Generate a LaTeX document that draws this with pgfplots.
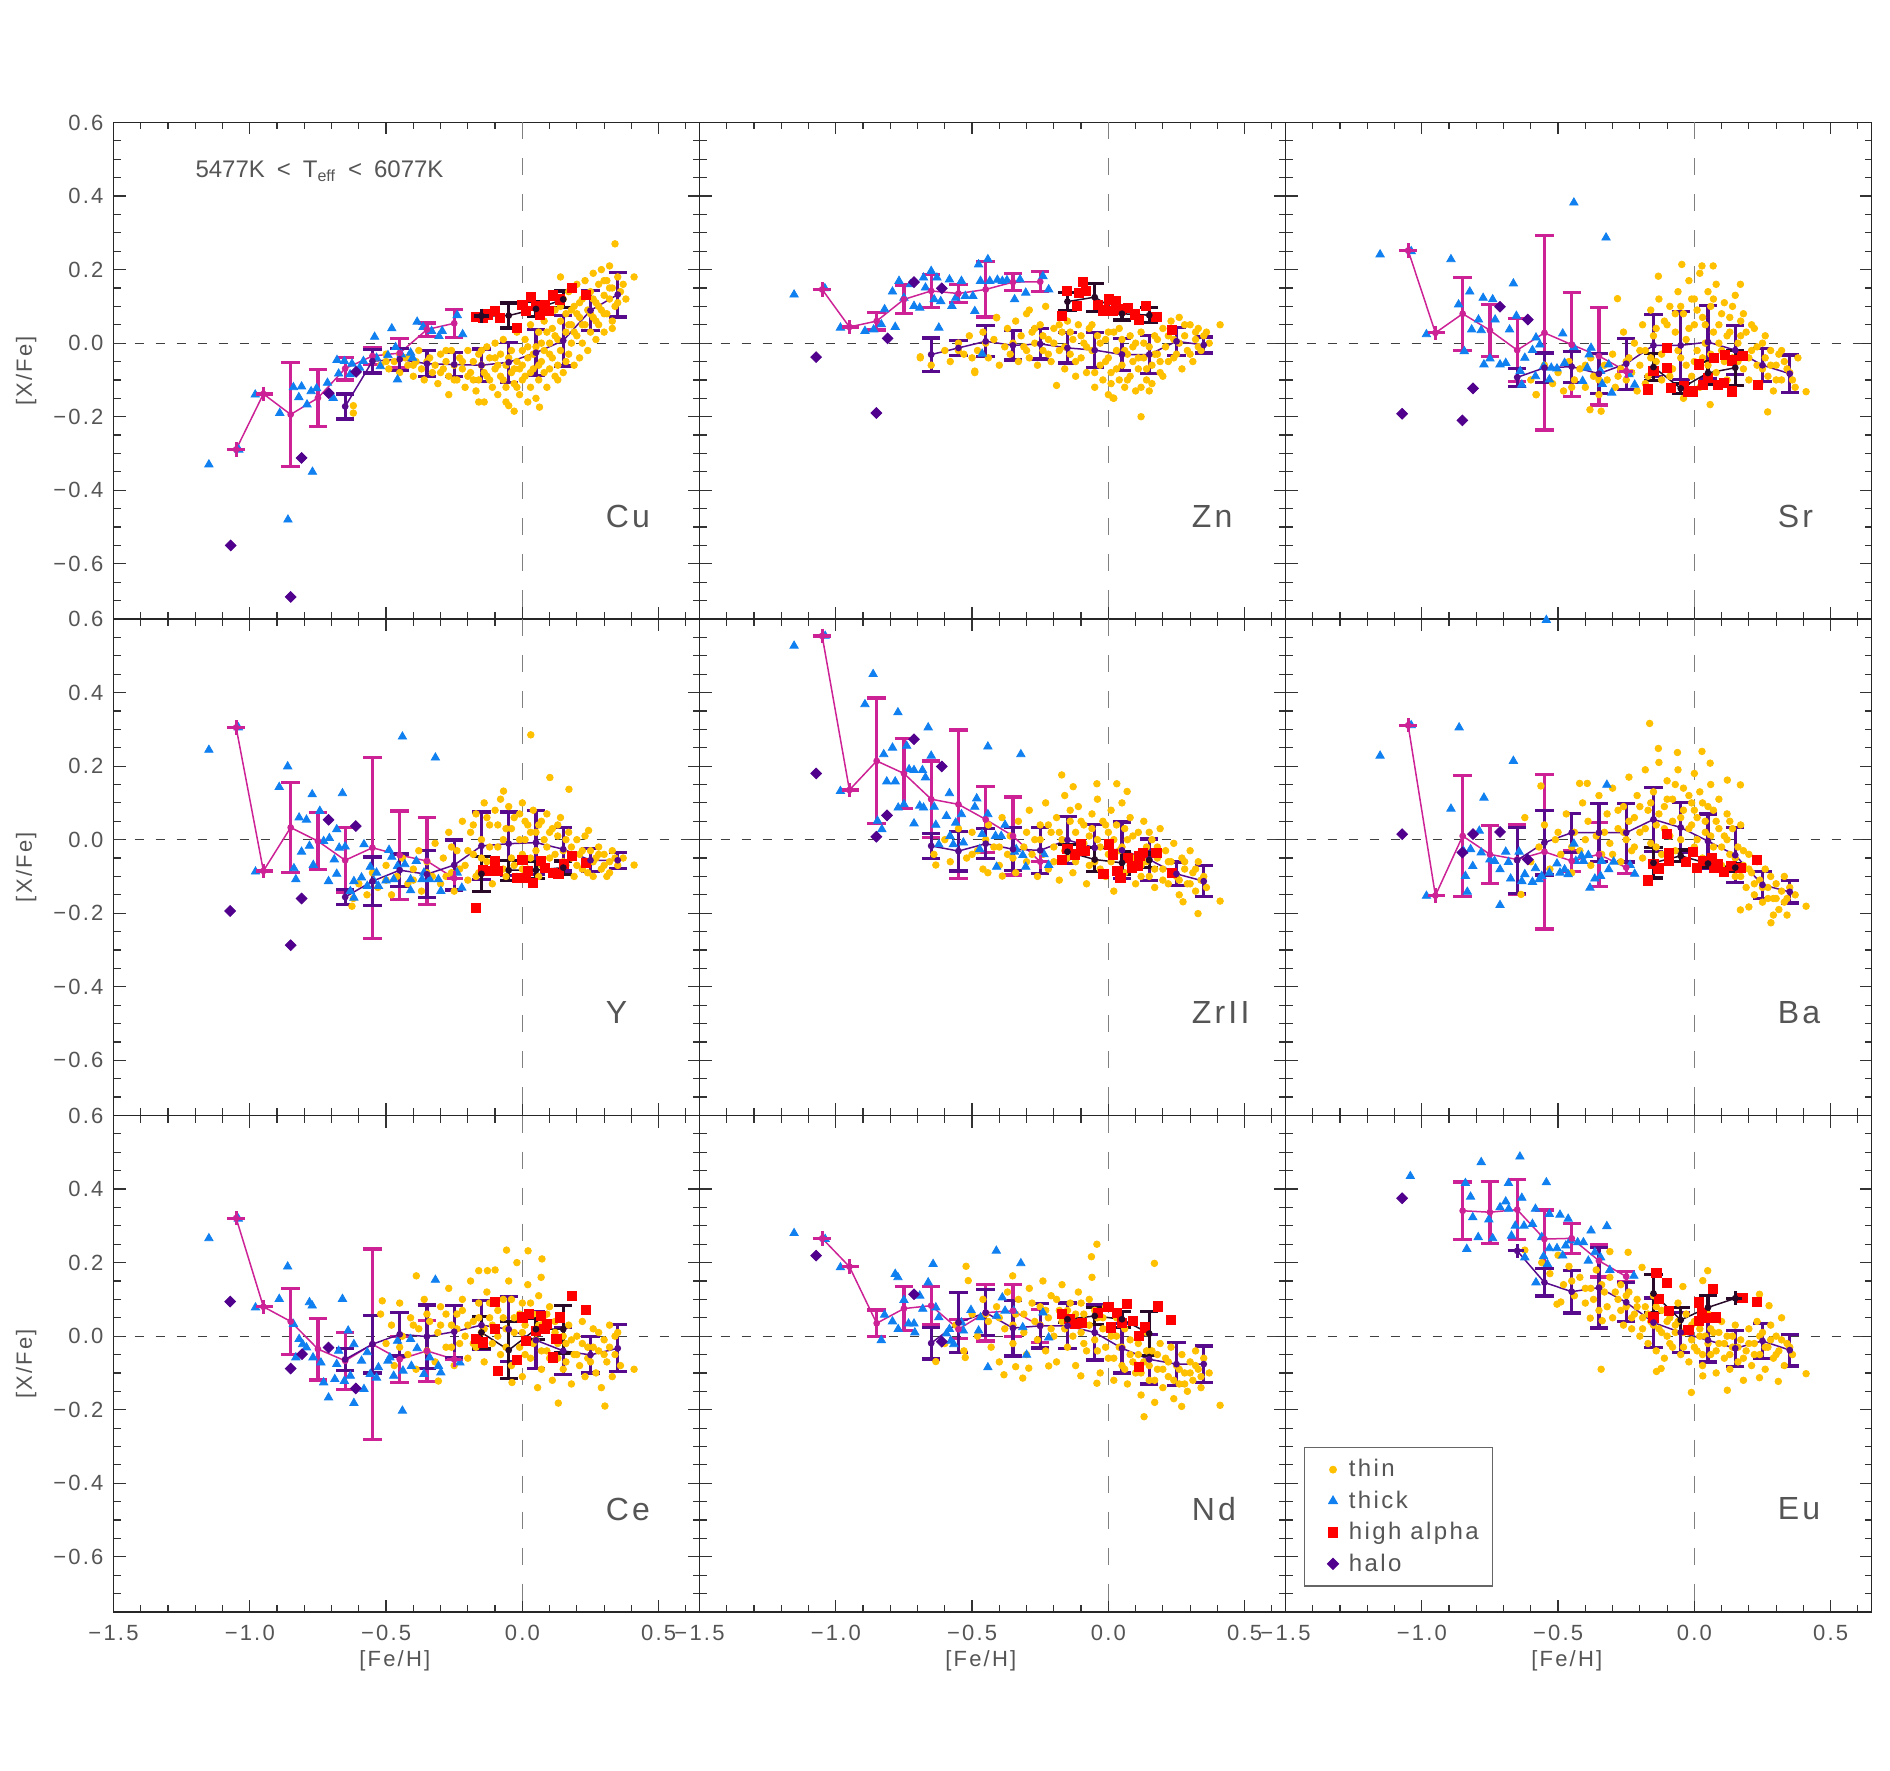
\documentclass[border=0pt]{standalone}
\usepackage{fontspec}
\setmainfont{Liberation Sans}
\newfontfamily\spaced{Liberation Sans}[LetterSpace=10]
\usepackage{pgfplots}
\pgfplotsset{compat=1.18}

\definecolor{thinc}{RGB}{255,192,0}
\definecolor{thickc}{RGB}{16,128,240}
\definecolor{alphac}{RGB}{255,0,0}
\definecolor{haloc}{RGB}{80,0,140}
\definecolor{magc}{RGB}{204,34,150}
\definecolor{purc}{RGB}{88,10,140}
\definecolor{blkc}{RGB}{40,10,40}
\definecolor{txtc}{RGB}{85,85,85}

\newcommand\tickfont{\spaced\fontsize{11}{12}\selectfont}
\newcommand\elemfont{\spaced\fontsize{16}{18}\selectfont}
\newcommand\legfont{\spaced\fontsize{12}{14}\selectfont}

\pgfplotsset{
  panel/.style={
    scale only axis, width=293pt, height=248.25pt,
    anchor=south west,
    xmin=-1.5, xmax=0.65, ymin=-0.75, ymax=0.6,
    xtick={-1.5,-1,-0.5,0,0.5},
    ytick={-0.6,-0.4,-0.2,0,0.2,0.4,0.6},
    minor xtick={-1.4,-1.3,-1.2,-1.1,-0.9,-0.8,-0.7,-0.6,-0.4,-0.3,-0.2,-0.1,0.1,0.2,0.3,0.4,0.6},
    minor ytick={-0.7,-0.65,-0.55,-0.5,-0.45,-0.35,-0.3,-0.25,-0.15,-0.1,-0.05,0.05,0.1,0.15,0.25,0.3,0.35,0.45,0.5,0.55},
    xtick pos=both, ytick pos=both, xticklabel pos=lower, yticklabel pos=left,
    tick align=inside, major tick length=6pt, minor tick length=3.5pt,
    every tick/.style={black!80, line width=0.6pt},
    axis line style={black!85, line width=0.8pt},
    tick label style={font=\tickfont, text=txtc},
    xticklabel style={yshift=-3pt},
    yticklabel style={xshift=-1.5pt},
    label style={font=\tickfont, text=txtc},
    xlabel style={at={(axis description cs:0.48,-0.099)}, anchor=center},
    ylabel style={at={(axis description cs:-0.149,0.5)}, anchor=center},
  },
  xlab/.style={xticklabels={−1.5,−1.0,−0.5,0.0,0.5}, xlabel={[Fe/H]}},
  nox/.style={xticklabels={}},
  ylab/.style={yticklabels={−0.6,−0.4,−0.2,0.0,0.2,0.4,0.6}, ylabel={[X/Fe]}},
  noy/.style={yticklabels={}},
  ythin/.style={only marks, mark=*, mark size=1.65pt, color=thinc},
  bthick/.style={only marks, mark=triangle*, mark size=2.4pt, color=thickc},
  ralpha/.style={only marks, mark=square*, mark size=2.3pt, color=alphac},
  phalo/.style={only marks, mark=square*, mark size=1.9pt, mark options={rotate=45}, color=haloc},
  legimg/.style={legend image code/.code={\path (0pt,0pt) (14.5pt,0pt);\draw[mark repeat=2,mark phase=2,##1] plot coordinates {(0pt,0pt)(8.9pt,0pt)(17.8pt,0pt)};}},
  xcross/.style={only marks, mark=+, mark size=3.6pt, line width=1.6pt, color=#1},
  bins/.style={color=#1, line width=0.75pt, mark=*, mark size=1.3pt,
    error bars/.cd, y dir=both, y explicit,
    error bar style={line width=1.6pt, color=#1},
    error mark options={rotate=90, mark size=4.6pt, line width=1.6pt, color=#1}},
}

% dashed solar reference lines
\newcommand\zerolines{%
  \draw[black!75, line width=0.6pt, dash pattern=on 4.5pt off 6pt] (axis cs:-1.5,0) -- (axis cs:0.65,0);
  \draw[black!50, line width=0.6pt, dash pattern=on 8.5pt off 9.5pt] (axis cs:0,0.6) -- (axis cs:0,-0.75);}
\newcommand\elem[1]{\node[anchor=west, inner sep=0pt, font=\elemfont, text=txtc] at (axis cs:0.305,-0.47) {#1};}

\begin{document}
\begin{tikzpicture}
\path[use as bounding box] (0,0) rectangle (945pt,885.5pt);

% ---------------- Cu ----------------
\begin{axis}[panel, at={(56.75pt,576pt)}, nox, ylab]
\zerolines
\addplot[ythin] coordinates {(-0.54,-0.04)(-0.52,-0.06)(-0.5,-0.03)(-0.49,-0.07)(-0.47,-0.05)(-0.45,-0.08)(-0.43,-0.04)(-0.42,-0.06)(-0.4,-0.09)(-0.41,-0.03)(-0.62,-0.19)(-0.62,-0.17)
(-0.39,-0.05)(-0.38,-0.02)(-0.37,-0.07)(-0.36,-0.1)(-0.34,-0.04)(-0.33,-0.08)(-0.32,-0.06)(-0.31,-0.11)(-0.3,-0.03)(-0.29,-0.07)(-0.28,-0.05)(-0.27,-0.09)(-0.26,-0.02)(-0.25,-0.06)(-0.27,-0.14)
(-0.24,-0.1)(-0.23,-0.04)(-0.22,-0.07)(-0.21,-0.12)(-0.2,-0.02)(-0.19,-0.08)(-0.18,-0.05)(-0.17,-0.13)(-0.16,-0.03)(-0.16,-0.1)(-0.15,-0.06)(-0.14,-0.16)(-0.13,-0.01)(-0.13,-0.09)(-0.12,-0.04)(-0.11,-0.12)(-0.1,-0.07)(-0.1,0.0)(-0.16,-0.16)
(-0.09,-0.14)(-0.08,-0.03)(-0.08,-0.09)(-0.07,0.01)(-0.06,-0.06)(-0.06,-0.12)(-0.05,-0.17)(-0.04,-0.02)(-0.04,-0.08)(-0.03,-0.11)(-0.02,0.03)(-0.02,-0.05)(-0.01,-0.14)(-0.01,-0.07)(0.0,-0.02)(-0.06,-0.16)(-0.03,-0.185)
(0.01,-0.09)(0.01,0.01)(0.02,-0.04)(0.03,-0.12)(0.03,0.05)(0.04,-0.07)(0.05,-0.01)(0.05,-0.15)(0.06,0.03)(0.06,-0.1)(0.07,-0.05)(0.08,0.06)(0.08,-0.02)(0.09,-0.12)(0.1,0.0)(0.1,-0.07)(0.063,-0.174)(0.02,-0.16)
(0.11,0.04)(0.11,-0.04)(0.12,0.09)(0.12,-0.09)(0.13,0.01)(0.13,-0.06)(0.14,0.06)(0.14,-0.02)(0.15,0.12)(0.15,-0.08)(0.16,0.03)(0.16,0.08)(0.17,-0.03)(0.17,0.14)(0.18,0.0)(0.18,0.05)(0.19,0.1)(0.19,-0.06)(0.2,0.02)(0.2,0.16)(0.14,0.18)
(0.21,0.07)(0.21,-0.04)(0.22,0.12)(0.22,0.0)(0.23,0.05)(0.23,0.17)(0.24,0.09)(0.24,-0.02)(0.25,0.14)(0.25,0.03)(0.26,0.19)(0.26,0.07)(0.27,0.11)(0.27,0.01)(0.28,0.16)(0.28,0.05)(0.29,0.09)(0.29,0.2)(0.3,0.13)(0.3,0.03)
(0.31,0.17)(0.31,0.08)(0.32,0.12)(0.32,0.21)(0.33,0.15)(0.33,0.06)(0.34,0.1)(0.35,0.18)(0.36,0.14)(0.34,0.27)(0.41,0.18)(0.33,0.04)};
\addplot[ythin] coordinates {(-0.35,-0.05)(-0.3,-0.08)(-0.28,-0.02)(-0.25,-0.1)(-0.22,-0.05)(-0.2,-0.09)(-0.18,-0.1)(-0.15,-0.02)(-0.14,-0.08)(-0.12,-0.1)(-0.1,-0.04)(-0.09,-0.06)(-0.07,-0.1)(-0.05,-0.04)(-0.03,-0.07)(-0.02,-0.12)(0.0,-0.1)(0.0,-0.06)(0.02,-0.01)(0.03,-0.08)(0.04,-0.03)(0.06,-0.06)(0.07,0.0)(0.08,-0.08)(0.09,0.03)(0.1,-0.03)(0.12,0.02)(0.13,-0.1)(0.14,0.1)(0.16,-0.05)(0.17,0.05)(0.18,0.09)(0.19,0.03)(0.2,0.08)(0.21,0.11)(0.22,0.05)(0.24,0.13)(0.25,0.08)(0.26,0.12)(0.27,0.06)(0.28,0.1)(0.3,0.17)(0.3,0.08)(0.32,0.15)(0.35,0.11)(0.37,0.16)(0.38,0.12)(-0.5,-0.05)(-0.45,-0.03)(-0.4,-0.06)};
\addplot[bthick] coordinates {(-1.15,-0.33)(-1.04,-0.29)(-0.98,-0.14)(-0.89,-0.19)(-0.86,-0.48)(-0.77,-0.35)(-0.84,-0.12)(-0.81,-0.118)(-0.82,-0.147)(-0.775,-0.131)(-0.755,-0.123)(-0.79,-0.167)(-0.715,-0.108)(-0.694,-0.149)(-0.68,-0.046)(-0.674,-0.083)(-0.653,-0.049)(-0.625,-0.056)(-0.632,-0.085)(-0.597,-0.067)(-0.583,-0.049)(-0.542,0.017)(-0.535,-0.04)(-0.521,-0.063)(-0.493,-0.033)(-0.479,0.04)(-0.465,-0.011)(-0.458,-0.099)(-0.444,-0.031)(-0.41,-0.026)(-0.403,-0.04)(-0.386,0.058)(-0.364,0.044)(-0.333,0.033)(-0.306,0.019)(-0.294,0.033)(-0.239,0.076)(-0.219,0.024)};
\addplot[ralpha] coordinates {(-0.169,0.072)(-0.146,0.069)(-0.125,0.078)(-0.1,0.087)(-0.083,0.069)(-0.021,0.042)(0.0,0.105)(0.014,0.087)(0.031,0.125)(0.049,0.101)(0.063,0.078)(0.083,0.105)(0.097,0.087)(0.111,0.13)(0.139,0.119)(0.181,0.151)(0.233,0.132)};
\addplot[phalo] coordinates {(-0.61,-0.078)(-0.71,-0.136)(-0.81,-0.312)(-1.07,-0.55)(-0.85,-0.69)};
\addplot[bins=magc] coordinates {(-1.05,-0.289)+-(0,0)(-0.95,-0.138)+-(0,0)(-0.85,-0.194)+-(0,0.142)(-0.75,-0.149)+-(0,0.078)(-0.65,-0.069)+-(0,0.031)(-0.55,-0.035)+-(0,0.024)(-0.45,-0.027)+-(0,0.04)(-0.35,0.037)+-(0,0.018)(-0.25,0.054)+-(0,0.038)};
\addplot[xcross=magc] coordinates {(-1.05,-0.289)(-0.95,-0.138)};
\addplot[bins=purc] coordinates {(-0.65,-0.172)+-(0,0.034)(-0.55,-0.049)+-(0,0.032)(-0.45,-0.044)+-(0,0.03)(-0.35,-0.056)+-(0,0.035)(-0.25,-0.058)+-(0,0.032)(-0.15,-0.06)+-(0,0.044)(-0.05,-0.052)+-(0,0.054)(0.05,-0.026)+-(0,0.063)(0.15,0.007)+-(0,0.069)(0.25,0.089)+-(0,0.054)(0.35,0.132)+-(0,0.061)};
\addplot[bins=blkc] coordinates {(-0.15,0.074)+-(0,0)(-0.05,0.075)+-(0,0.034)(0.05,0.093)+-(0,0.021)(0.15,0.119)+-(0,0.023)};
\addplot[xcross=blkc] coordinates {(-0.15,0.074)};
\elem{Cu}
\node[anchor=west, font=\fontsize{12}{14}\selectfont, text=txtc] at (axis cs:-1.225,0.468) {5477K\hspace{6pt}<\hspace{6pt}T\textsubscript{eff}\hspace{6pt}<\hspace{6pt}6077K};
\end{axis}

% ---------------- Zn ----------------
\begin{axis}[panel, at={(349.75pt,576pt)}, nox, noy]
\zerolines
\addplot[ythin] coordinates {(-0.69,-0.04)(-0.65,-0.06)(-0.6,-0.02)(-0.58,-0.05)(-0.55,0.0)(-0.53,-0.03)(-0.51,0.02)(-0.49,-0.08)(-0.48,-0.02)(-0.46,0.03)(-0.44,-0.04)(-0.42,0.01)(-0.41,0.07)(-0.4,-0.06)(-0.38,-0.01)(-0.37,0.04)(-0.36,-0.03)(-0.34,0.06)(-0.33,-0.05)(-0.32,0.02)(-0.31,-0.01)(-0.3,0.08)(-0.29,-0.04)(-0.28,0.03)(-0.27,0.0)(-0.26,-0.06)(-0.25,0.05)(-0.24,-0.02)(-0.23,0.1)(-0.22,0.01)(-0.21,-0.05)(-0.2,0.04)(-0.19,-0.115)(-0.18,-0.02)(-0.17,0.03)(-0.16,-0.07)(-0.15,0.06)(-0.14,-0.03)(-0.13,0.01)(-0.12,-0.09)(-0.11,0.05)(-0.1,-0.04)(-0.09,0.0)(-0.08,-0.08)(-0.07,0.04)(-0.06,-0.02)(-0.05,-0.12)(-0.04,0.02)(-0.03,-0.06)(-0.02,-0.1)(-0.01,0.01)(0.0,-0.04)(0.0,-0.14)(0.01,-0.08)(0.02,0.03)(0.02,-0.15)(0.03,-0.02)(0.04,-0.1)(0.05,0.01)(0.05,-0.06)(0.06,-0.12)(0.07,-0.03)(0.08,0.02)(0.08,-0.09)(0.09,-0.05)(0.1,-0.13)(0.1,0.0)(0.11,-0.07)(0.12,-0.2)(0.12,0.03)(0.13,-0.04)(0.14,-0.1)(0.15,-0.01)(0.15,-0.13)(0.16,-0.06)(0.17,0.02)(0.18,-0.03)(0.19,-0.08)(0.2,0.04)(0.21,-0.01)(0.22,-0.05)(0.23,0.06)(0.24,0.01)(0.25,-0.03)(0.26,0.07)(0.27,-0.07)(0.28,0.02)(0.29,-0.02)(0.3,0.05)(0.31,-0.05)(0.32,0.01)(0.33,0.04)(0.34,-0.02)(0.35,0.02)(0.37,0.0)(0.41,0.05)(-0.49,-0.076)(-0.69,-0.037)(-0.29,0.09)(-0.41,0.069)(0.017,-0.149)};
\addplot[ythin] coordinates {(-0.35,0.0)(-0.3,-0.02)(-0.27,0.04)(-0.24,0.02)(-0.22,-0.03)(-0.2,0.0)(-0.18,0.05)(-0.16,-0.01)(-0.14,0.03)(-0.12,-0.05)(-0.1,0.02)(-0.08,-0.01)(-0.06,0.05)(-0.05,-0.08)(-0.03,0.0)(-0.01,-0.05)(0.0,0.03)(0.01,-0.11)(0.03,-0.07)(0.04,0.04)(0.06,-0.02)(0.07,-0.1)(0.09,-0.01)(0.11,-0.04)(0.12,-0.12)(0.13,0.0)(0.14,-0.07)(0.16,-0.11)(0.17,-0.03)(0.18,0.01)(0.19,-0.05)(0.2,-0.09)(0.22,0.02)(0.24,-0.04)(0.26,0.0)(0.28,0.05)(0.3,-0.03)(0.32,0.03)(0.33,-0.01)(0.36,0.03)(-0.45,0.0)(-0.5,-0.04)(-0.55,-0.02)};
\addplot[bthick] coordinates {(-1.153,0.132)(-1.04,0.149)(-0.983,0.042)(-0.893,0.033)(-0.861,0.037)(-0.833,0.051)(-0.821,0.092)(-0.782,0.044)(-0.792,0.14)(-0.768,0.169)(-0.75,0.123)(-0.726,0.16)(-0.713,0.101)(-0.692,0.096)(-0.678,0.178)(-0.671,0.151)(-0.65,0.196)(-0.639,0.119)(-0.629,0.178)(-0.622,0.042)(-0.615,0.114)(-0.583,0.173)(-0.574,0.101)(-0.56,0.123)(-0.539,0.169)(-0.525,0.128)(-0.497,0.128)(-0.49,0.087)(-0.476,0.214)(-0.469,0.169)(-0.442,0.228)(-0.435,0.169)(-0.407,0.172)(-0.389,0.169)(-0.372,0.171)(-0.344,0.119)(-0.324,0.173)(-0.303,0.137)(-0.24,0.182)(-0.219,0.146)(-0.463,-0.029)};
\addplot[ralpha] coordinates {(-0.171,0.074)(-0.153,0.142)(-0.108,0.137)(-0.092,0.166)(-0.115,0.101)(-0.018,0.089)(0.003,0.119)(0.028,0.114)(0.017,0.087)(0.044,0.092)(0.072,0.096)(0.097,0.078)(0.111,0.064)(0.139,0.101)(0.176,0.071)(0.232,0.037)(-0.039,0.105)(-0.081,0.142)};
\addplot[phalo] coordinates {(-0.713,0.166)(-0.611,0.149)(-0.81,0.013)(-1.072,-0.038)(-0.851,-0.19)};
\addplot[bins=magc] coordinates {(-1.05,0.146)+-(0,0)(-0.95,0.044)+-(0,0)(-0.85,0.06)+-(0,0.024)(-0.75,0.119)+-(0,0.039)(-0.65,0.142)+-(0,0.045)(-0.55,0.135)+-(0,0.024)(-0.45,0.146)+-(0,0.075)(-0.35,0.166)+-(0,0.023)(-0.25,0.167)+-(0,0.027)};
\addplot[xcross=magc] coordinates {(-1.05,0.146)(-0.95,0.044)};
\addplot[bins=purc] coordinates {(-0.65,-0.031)+-(0,0.045)(-0.55,-0.013)+-(0,0.021)(-0.45,0.005)+-(0,0.042)(-0.35,-0.006)+-(0,0.04)(-0.25,-0.002)+-(0,0.041)(-0.15,-0.013)+-(0,0.041)(-0.05,-0.019)+-(0,0.048)(0.05,-0.031)+-(0,0.044)(0.15,-0.031)+-(0,0.052)(0.25,0.005)+-(0,0.038)(0.35,-0.005)+-(0,0.022)};
\addplot[bins=blkc] coordinates {(-0.15,0.113)+-(0,0.025)(-0.05,0.125)+-(0,0.038)(0.05,0.08)+-(0,0.017)(0.15,0.076)+-(0,0.02)};
\elem{Zn}
\end{axis}

% ---------------- Sr ----------------
\begin{axis}[panel, at={(642.75pt,576pt)}, nox, noy]
\zerolines
\addplot[ythin] coordinates {(-0.6,-0.1)(-0.58,-0.14)(-0.55,-0.06)(-0.52,-0.11)(-0.5,-0.08)(-0.48,-0.13)(-0.46,-0.05)(-0.44,-0.1)(-0.42,-0.07)(-0.4,-0.12)(-0.38,-0.04)(-0.37,-0.09)(-0.35,-0.14)(-0.33,-0.06)(-0.32,-0.1)(-0.3,-0.03)(-0.29,-0.12)(-0.27,-0.07)(-0.26,0.03)(-0.25,-0.1)(-0.24,-0.04)(-0.22,0.0)(-0.21,-0.13)(-0.2,-0.06)(-0.19,0.05)(-0.18,-0.02)(-0.17,-0.09)(-0.16,0.09)(-0.15,0.02)(-0.14,-0.05)(-0.13,0.12)(-0.12,-0.1)(-0.11,0.06)(-0.1,-0.01)(-0.09,0.1)(-0.08,-0.07)(-0.07,0.03)(-0.06,0.14)(-0.05,-0.04)(-0.04,0.08)(-0.04,-0.15)(-0.03,0.01)(-0.02,0.17)(-0.01,-0.09)(0.0,0.05)(0.0,0.12)(0.01,-0.02)(0.02,0.19)(0.02,-0.12)(0.03,0.07)(0.04,0.0)(0.05,0.14)(0.05,-0.06)(0.06,0.1)(0.07,0.03)(0.08,0.16)(0.08,-0.08)(0.09,0.05)(0.1,-0.02)(0.11,0.11)(0.12,0.02)(0.12,-0.1)(0.13,0.07)(0.14,-0.04)(0.15,0.13)(0.16,0.0)(0.17,0.06)(0.18,-0.07)(0.19,0.03)(0.2,-0.1)(0.21,-0.02)(0.22,0.04)(0.23,-0.06)(0.24,-0.11)(0.25,0.0)(0.26,-0.04)(0.27,-0.09)(0.28,-0.02)(0.29,-0.13)(0.3,-0.06)(0.31,-0.03)(0.32,-0.1)(0.33,-0.05)(0.35,-0.08)(0.37,-0.12)(0.38,-0.04)(-0.046,0.214)(0.028,0.21)(0.069,0.21)(-0.132,0.182)(0.169,0.16)(-0.282,0.121)(-0.581,-0.14)(-0.383,-0.181)(-0.342,-0.185)(0.269,-0.187)(0.058,-0.167)(0.41,-0.132)};
\addplot[ythin] coordinates {(-0.28,-0.09)(-0.25,-0.05)(-0.23,-0.08)(-0.2,-0.02)(-0.18,-0.11)(-0.16,-0.04)(-0.14,0.04)(-0.12,-0.03)(-0.1,0.05)(-0.09,-0.09)(-0.07,0.08)(-0.06,-0.02)(-0.05,0.1)(-0.03,-0.06)(-0.02,0.04)(-0.01,0.12)(0.0,-0.05)(0.01,0.09)(0.03,-0.04)(0.04,0.05)(0.06,-0.03)(0.07,0.12)(0.09,0.0)(0.1,0.08)(0.11,-0.05)(0.13,0.03)(0.14,0.1)(0.16,-0.05)(0.17,0.02)(0.18,0.08)(0.2,-0.04)(0.21,0.05)(0.23,-0.01)(0.25,-0.07)(0.26,0.02)(0.28,-0.06)(0.3,-0.1)(0.32,-0.02)(0.34,-0.07)(0.36,-0.1)(-0.35,-0.1)(-0.4,-0.06)(-0.45,-0.12)};
\addplot[bthick] coordinates {(-1.153,0.241)(-1.039,0.25)(-0.983,0.024)(-0.893,0.228)(-0.865,0.105)(-0.844,-0.022)(-0.824,0.14)(-0.817,0.037)(-0.792,0.064)(-0.782,0.035)(-0.772,-0.058)(-0.775,0.123)(-0.75,-0.042)(-0.74,0.119)(-0.731,0.064)(-0.713,-0.058)(-0.692,-0.054)(-0.678,0.037)(-0.664,0.162)(-0.653,0.074)(-0.639,-0.076)(-0.633,-0.113)(-0.622,-0.04)(-0.594,-0.019)(-0.583,-0.09)(-0.581,0.015)(-0.567,-0.004)(-0.553,-0.063)(-0.532,-0.099)(-0.525,-0.067)(-0.504,-0.069)(-0.483,0.026)(-0.476,-0.054)(-0.442,0.382)(-0.442,-0.011)(-0.41,-0.103)(-0.393,-0.067)(-0.386,-0.031)(-0.379,-0.013)(-0.344,-0.076)(-0.338,-0.111)(-0.324,0.287)(-0.314,-0.058)(-0.303,-0.135)(-0.24,-0.085)(-0.219,-0.113)};
\addplot[ralpha] coordinates {(-0.171,-0.126)(-0.15,-0.076)(-0.101,-0.013)(-0.101,-0.067)(-0.087,-0.122)(-0.039,-0.117)(-0.004,-0.131)(0.017,-0.058)(0.031,-0.113)(0.051,-0.094)(0.072,-0.04)(0.086,-0.113)(0.107,-0.108)(0.111,-0.031)(0.139,-0.131)(0.139,-0.047)(0.176,-0.035)(0.232,-0.113)(-0.022,-0.131)};
\addplot[phalo] coordinates {(-0.713,0.099)(-0.611,0.064)(-0.812,-0.123)(-1.072,-0.192)(-0.851,-0.21)};
\addplot[bins=magc] coordinates {(-1.05,0.252)+-(0,0)(-0.95,0.028)+-(0,0)(-0.85,0.08)+-(0,0.099)(-0.75,0.035)+-(0,0.071)(-0.65,-0.019)+-(0,0.086)(-0.55,0.028)+-(0,0.264)(-0.45,-0.004)+-(0,0.141)(-0.35,-0.035)+-(0,0.133)(-0.25,-0.076)+-(0,0)};
\addplot[xcross=magc] coordinates {(-1.05,0.252)(-0.95,0.028)(-0.25,-0.076)};
\addplot[bins=purc] coordinates {(-0.65,-0.093)+-(0,0.024)(-0.55,-0.067)+-(0,0.04)(-0.45,-0.064)+-(0,0.042)(-0.35,-0.083)+-(0,0.054)(-0.25,-0.056)+-(0,0.069)(-0.15,-0.006)+-(0,0.084)(-0.05,-0.006)+-(0,0.093)(0.05,0.003)+-(0,0.1)(0.15,-0.019)+-(0,0.066)(0.25,-0.06)+-(0,0.045)(0.35,-0.083)+-(0,0.051)};
\addplot[bins=blkc] coordinates {(-0.15,-0.065)+-(0,0.036)(-0.05,-0.123)+-(0,0.014)(0.05,-0.081)+-(0,0.032)(0.15,-0.067)+-(0,0.048)};
\elem{Sr}
\end{axis}

% ---------------- Y ----------------
\begin{axis}[panel, at={(56.75pt,327.75pt)}, nox, ylab]
\zerolines
\addplot[ythin] coordinates {(-0.62,-0.16)(-0.6,-0.12)(-0.57,-0.15)(-0.55,-0.09)(-0.53,-0.13)(-0.5,-0.07)(-0.48,-0.15)(-0.46,-0.1)(-0.44,-0.05)(-0.42,-0.12)(-0.4,-0.08)(-0.38,-0.03)(-0.37,-0.14)(-0.35,-0.06)(-0.33,-0.1)(-0.32,-0.01)(-0.3,-0.12)(-0.29,-0.05)(-0.27,0.02)(-0.26,-0.09)(-0.25,-0.14)(-0.24,-0.03)(-0.22,0.05)(-0.21,-0.07)(-0.2,-0.11)(-0.19,0.02)(-0.18,-0.04)(-0.17,0.07)(-0.16,-0.09)(-0.15,0.0)(-0.14,0.1)(-0.13,-0.06)(-0.12,0.04)(-0.11,-0.12)(-0.1,0.08)(-0.09,-0.02)(-0.08,0.11)(-0.07,-0.08)(-0.06,0.03)(-0.05,0.09)(-0.04,-0.05)(-0.03,0.06)(-0.02,-0.1)(-0.01,0.0)(0.0,0.1)(0.0,-0.04)(0.01,0.05)(0.02,-0.08)(0.03,0.02)(0.04,0.08)(0.05,-0.03)(0.06,0.04)(0.07,-0.07)(0.08,0.0)(0.09,0.07)(0.1,-0.05)(0.11,0.03)(0.12,-0.09)(0.13,0.01)(0.14,0.06)(0.15,-0.03)(0.16,-0.07)(0.17,0.02)(0.18,-0.05)(0.19,-0.1)(0.2,0.0)(0.21,-0.04)(0.22,-0.08)(0.23,0.01)(0.24,-0.06)(0.25,-0.03)(0.26,-0.1)(0.27,-0.05)(0.28,-0.02)(0.29,-0.08)(0.3,-0.04)(0.31,-0.1)(0.32,-0.06)(0.33,-0.03)(0.35,-0.07)(0.37,-0.05)(0.031,0.285)(0.101,0.169)(0.171,0.137)(-0.069,0.132)(0.243,0.025)(0.41,-0.069)(-0.625,-0.181)};
\addplot[ythin] coordinates {(-0.28,-0.1)(-0.26,-0.02)(-0.23,-0.08)(-0.2,-0.03)(-0.18,0.04)(-0.17,-0.1)(-0.15,-0.05)(-0.13,0.06)(-0.12,-0.02)(-0.1,-0.07)(-0.09,0.04)(-0.07,0.0)(-0.06,-0.1)(-0.04,0.03)(-0.03,-0.07)(-0.01,0.07)(0.0,-0.08)(0.01,0.0)(0.02,0.04)(0.03,-0.05)(0.05,0.02)(0.06,-0.1)(0.07,0.05)(0.09,-0.02)(0.1,0.02)(0.12,-0.04)(0.13,0.04)(0.15,-0.06)(0.16,0.0)(0.18,-0.02)(0.2,-0.07)(0.22,-0.03)(0.24,-0.09)(0.26,-0.06)(0.28,-0.04)(0.3,-0.07)(0.32,-0.09)(0.34,-0.05)(-0.35,-0.09)(-0.4,-0.11)(-0.5,-0.11)};
\addplot[bthick] coordinates {(-1.15,0.244)(-1.042,0.305)(-0.979,-0.087)(-0.892,0.143)(-0.861,0.199)(-0.838,-0.078)(-0.831,-0.108)(-0.819,0.06)(-0.81,-0.033)(-0.792,0.054)(-0.781,-0.017)(-0.771,0.123)(-0.767,-0.069)(-0.743,0.078)(-0.729,-0.004)(-0.711,-0.113)(-0.708,0.004)(-0.69,-0.054)(-0.681,-0.093)(-0.681,0.028)(-0.672,-0.022)(-0.66,0.126)(-0.65,-0.019)(-0.631,-0.14)(-0.618,-0.113)(-0.618,-0.158)(-0.59,-0.103)(-0.581,-0.013)(-0.569,-0.126)(-0.558,-0.074)(-0.544,-0.113)(-0.535,-0.09)(-0.528,-0.126)(-0.5,-0.111)(-0.489,-0.028)(-0.479,-0.047)(-0.472,-0.108)(-0.458,-0.072)(-0.44,0.28)(-0.431,-0.067)(-0.41,-0.108)(-0.41,-0.138)(-0.389,-0.058)(-0.368,-0.108)(-0.361,-0.09)(-0.34,-0.108)(-0.319,0.223)(-0.308,-0.108)(-0.299,-0.14)(-0.239,-0.09)(-0.222,-0.131)};
\addplot[ralpha] coordinates {(-0.169,-0.185)(-0.146,-0.083)(-0.125,-0.085)(-0.1,-0.058)(-0.09,-0.085)(-0.021,-0.103)(0.0,-0.054)(0.014,-0.103)(0.039,-0.117)(0.069,-0.058)(0.083,-0.076)(0.111,-0.09)(0.132,-0.094)(0.153,-0.065)(0.183,-0.044)(0.233,-0.063)(0.021,-0.085)};
\addplot[phalo] coordinates {(-0.711,0.054)(-0.611,0.037)(-0.81,-0.16)(-1.072,-0.194)(-0.85,-0.287)};
\addplot[bins=magc] coordinates {(-1.05,0.305)+-(0,0)(-0.95,-0.085)+-(0,0)(-0.85,0.033)+-(0,0.123)(-0.75,-0.004)+-(0,0.078)(-0.65,-0.056)+-(0,0.088)(-0.55,-0.022)+-(0,0.246)(-0.45,-0.042)+-(0,0.12)(-0.35,-0.058)+-(0,0.118)(-0.25,-0.105)+-(0,0)};
\addplot[xcross=magc] coordinates {(-1.05,0.305)(-0.95,-0.085)(-0.25,-0.105)};
\addplot[bins=purc] coordinates {(-0.65,-0.156)+-(0,0.02)(-0.55,-0.113)+-(0,0.066)(-0.45,-0.083)+-(0,0.044)(-0.35,-0.094)+-(0,0.064)(-0.25,-0.069)+-(0,0.068)(-0.15,-0.017)+-(0,0.092)(-0.05,-0.011)+-(0,0.086)(0.05,-0.008)+-(0,0.087)(0.15,-0.026)+-(0,0.059)(0.25,-0.056)+-(0,0.031)(0.35,-0.056)+-(0,0.022)};
\addplot[bins=blkc] coordinates {(-0.15,-0.093)+-(0,0.047)(-0.05,-0.083)+-(0,0.027)(0.05,-0.083)+-(0,0.023)(0.15,-0.076)+-(0,0.018)};
\elem{Y}
\end{axis}

% ---------------- ZrII ----------------
\begin{axis}[panel, at={(349.75pt,327.75pt)}, nox, noy]
\zerolines
\addplot[ythin] coordinates {(-0.64,-0.04)(-0.6,0.0)(-0.58,-0.06)(-0.55,0.03)(-0.52,-0.05)(-0.5,0.02)(-0.48,-0.03)(-0.46,-0.08)(-0.44,0.04)(-0.42,-0.02)(-0.4,-0.07)(-0.39,0.06)(-0.37,-0.04)(-0.36,0.01)(-0.34,-0.09)(-0.33,0.05)(-0.31,-0.02)(-0.3,-0.06)(-0.29,0.08)(-0.27,0.0)(-0.26,-0.1)(-0.25,0.04)(-0.24,-0.04)(-0.23,0.1)(-0.22,-0.08)(-0.21,0.02)(-0.2,-0.02)(-0.19,0.06)(-0.18,-0.11)(-0.17,0.0)(-0.16,0.12)(-0.15,-0.05)(-0.14,0.05)(-0.13,-0.09)(-0.12,0.02)(-0.11,0.09)(-0.1,-0.03)(-0.09,0.04)(-0.08,-0.12)(-0.07,0.01)(-0.06,0.07)(-0.05,-0.06)(-0.04,0.11)(-0.03,-0.02)(-0.02,0.05)(-0.01,-0.1)(0.0,0.02)(0.01,0.08)(0.01,-0.06)(0.02,-0.14)(0.03,0.04)(0.04,-0.03)(0.05,0.1)(0.06,-0.09)(0.07,0.0)(0.08,0.06)(0.09,-0.05)(0.1,-0.12)(0.11,0.02)(0.12,-0.07)(0.13,0.05)(0.14,-0.02)(0.15,-0.1)(0.16,0.0)(0.17,-0.13)(0.18,-0.05)(0.19,0.03)(0.2,-0.08)(0.21,-0.03)(0.22,-0.12)(0.23,-0.06)(0.24,-0.01)(0.25,-0.1)(0.26,-0.15)(0.27,-0.05)(0.28,-0.08)(0.29,-0.12)(0.3,-0.03)(0.31,-0.09)(0.32,-0.14)(0.33,-0.06)(0.35,-0.1)(0.36,-0.13)(-0.171,0.176)(-0.129,0.144)(-0.042,0.152)(0.031,0.152)(0.069,0.131)(0.329,-0.201)(0.41,-0.167)(-0.633,-0.069)(-0.389,-0.099)(-0.442,-0.09)(0.274,-0.169)};
\addplot[ythin] coordinates {(-0.3,0.02)(-0.28,-0.04)(-0.25,0.0)(-0.22,0.04)(-0.2,-0.06)(-0.18,0.02)(-0.16,-0.03)(-0.14,0.08)(-0.12,-0.06)(-0.1,0.05)(-0.09,-0.01)(-0.07,-0.07)(-0.06,0.03)(-0.04,0.0)(-0.03,-0.08)(-0.01,0.04)(0.0,-0.04)(0.02,0.0)(0.03,-0.09)(0.05,-0.02)(0.06,0.03)(0.08,-0.07)(0.09,0.01)(0.11,-0.04)(0.12,-0.1)(0.14,-0.06)(0.15,0.02)(0.17,-0.08)(0.18,-0.02)(0.2,-0.11)(0.22,-0.06)(0.24,-0.09)(0.26,-0.11)(0.28,-0.06)(0.3,-0.12)(0.32,-0.08)(0.34,-0.11)(-0.4,-0.02)(-0.45,0.0)(-0.5,-0.04)(-0.35,-0.05)};
\addplot[bthick] coordinates {(-1.153,0.527)(-1.039,0.554)(-0.983,0.132)(-0.893,0.368)(-0.863,0.45)(-0.847,0.051)(-0.831,0.028)(-0.824,0.232)(-0.813,0.158)(-0.792,0.25)(-0.782,0.158)(-0.772,0.346)(-0.771,0.087)(-0.75,0.096)(-0.74,0.255)(-0.731,0.191)(-0.713,0.189)(-0.713,0.044)(-0.692,0.092)(-0.682,0.189)(-0.678,0.087)(-0.671,0.169)(-0.661,0.305)(-0.65,0.228)(-0.639,0.089)(-0.633,0.04)(-0.622,-0.013)(-0.594,0.064)(-0.583,0.126)(-0.581,0.01)(-0.569,-0.013)(-0.56,0.046)(-0.539,0.069)(-0.532,-0.008)(-0.49,0.089)(-0.483,0.112)(-0.472,-0.026)(-0.463,0.015)(-0.442,0.253)(-0.442,0.069)(-0.414,0.01)(-0.41,-0.074)(-0.393,0.01)(-0.379,0.04)(-0.344,-0.033)(-0.338,-0.026)(-0.321,0.232)(-0.314,-0.042)(-0.303,-0.074)(-0.236,-0.04)(-0.219,-0.069)};
\addplot[ralpha] coordinates {(-0.171,-0.054)(-0.15,-0.026)(-0.122,-0.04)(-0.101,-0.013)(-0.087,-0.031)(-0.018,-0.094)(0.003,-0.013)(0.017,-0.04)(0.033,-0.085)(0.044,-0.103)(0.072,-0.049)(0.086,-0.076)(0.107,-0.072)(0.128,-0.035)(0.176,-0.035)(0.232,-0.09)(0.114,-0.044)};
\addplot[phalo] coordinates {(-1.072,0.18)(-0.713,0.273)(-0.611,0.199)(-0.812,0.066)(-0.851,0.008)};
\addplot[bins=magc] coordinates {(-1.05,0.554)+-(0,0)(-0.95,0.135)+-(0,0)(-0.85,0.214)+-(0,0.171)(-0.75,0.18)+-(0,0.095)(-0.65,0.11)+-(0,0.104)(-0.55,0.096)+-(0,0.202)(-0.45,0.055)+-(0,0.09)(-0.35,0.01)+-(0,0.106)(-0.25,-0.06)+-(0,0)};
\addplot[xcross=magc] coordinates {(-1.05,0.554)(-0.95,0.135)(-0.25,-0.06)};
\addplot[bins=purc] coordinates {(-0.65,-0.017)+-(0,0.034)(-0.55,-0.031)+-(0,0.054)(-0.45,-0.011)+-(0,0.041)(-0.35,-0.026)+-(0,0.058)(-0.25,-0.029)+-(0,0.062)(-0.15,-0.001)+-(0,0.064)(-0.05,-0.022)+-(0,0.064)(0.05,-0.029)+-(0,0.077)(0.15,-0.054)+-(0,0.056)(0.25,-0.093)+-(0,0.032)(0.35,-0.113)+-(0,0.042)};
\addplot[bins=blkc] coordinates {(-0.15,-0.033)+-(0,0.019)(-0.05,-0.054)+-(0,0.033)(0.05,-0.063)+-(0,0.031)(0.15,-0.056)+-(0,0.02)};
\elem{ZrII}
\end{axis}

% ---------------- Ba ----------------
\begin{axis}[panel, at={(642.75pt,327.75pt)}, nox, noy]
\zerolines
\addplot[ythin] coordinates {(-0.6,-0.06)(-0.57,-0.02)(-0.55,0.04)(-0.53,-0.08)(-0.51,0.0)(-0.49,-0.04)(-0.47,0.07)(-0.45,-0.09)(-0.44,0.02)(-0.42,-0.03)(-0.41,0.1)(-0.39,0.05)(-0.38,-0.07)(-0.36,0.01)(-0.35,0.12)(-0.34,-0.04)(-0.32,0.07)(-0.31,-0.01)(-0.3,0.14)(-0.28,0.03)(-0.27,-0.06)(-0.26,0.09)(-0.25,0.0)(-0.24,0.17)(-0.23,-0.03)(-0.22,0.06)(-0.21,0.12)(-0.2,0.02)(-0.19,-0.05)(-0.18,0.19)(-0.17,0.08)(-0.16,-0.01)(-0.15,0.13)(-0.14,0.04)(-0.13,0.21)(-0.12,-0.04)(-0.11,0.09)(-0.1,0.16)(-0.09,0.01)(-0.08,0.11)(-0.07,-0.03)(-0.06,0.19)(-0.05,0.06)(-0.04,0.14)(-0.03,-0.06)(-0.02,0.03)(-0.01,0.1)(0.0,0.18)(0.0,-0.02)(0.01,0.06)(0.02,0.13)(0.03,-0.05)(0.04,0.02)(0.05,0.09)(0.06,0.15)(0.07,-0.02)(0.08,0.05)(0.09,0.11)(0.1,-0.07)(0.11,0.01)(0.12,0.07)(0.13,-0.04)(0.14,0.03)(0.15,-0.1)(0.16,-0.02)(0.17,0.04)(0.18,-0.07)(0.19,-0.13)(0.2,-0.04)(0.21,-0.09)(0.22,-0.15)(0.23,-0.06)(0.24,-0.11)(0.25,-0.17)(0.26,-0.08)(0.27,-0.13)(0.28,-0.1)(0.29,-0.16)(0.3,-0.12)(0.31,-0.19)(0.32,-0.14)(0.33,-0.1)(0.34,-0.16)(0.35,-0.13)(0.37,-0.15)(-0.164,0.316)(-0.132,0.248)(-0.062,0.237)(0.028,0.24)(0.058,0.208)(0.121,0.162)(0.169,0.149)(0.281,-0.226)(0.29,-0.205)(0.34,-0.205)(0.41,-0.181)(0.169,-0.191)(0.2,-0.183)(-0.563,0.146)(-0.622,0.06)(-0.636,-0.149)(-0.421,0.153)(-0.393,0.153)};
\addplot[ythin] coordinates {(-0.33,0.02)(-0.3,-0.04)(-0.28,0.08)(-0.26,0.02)(-0.24,0.05)(-0.22,-0.02)(-0.2,0.09)(-0.18,0.03)(-0.16,0.1)(-0.14,-0.02)(-0.13,0.07)(-0.11,0.03)(-0.1,0.11)(-0.08,0.05)(-0.07,0.15)(-0.05,0.0)(-0.04,0.08)(-0.02,0.12)(-0.01,0.04)(0.0,0.08)(0.01,0.0)(0.03,0.1)(0.04,0.05)(0.06,0.01)(0.07,0.08)(0.09,0.03)(0.1,-0.02)(0.12,0.0)(0.13,0.05)(0.15,-0.05)(0.17,-0.1)(0.18,-0.03)(0.2,-0.08)(0.22,-0.12)(0.25,-0.13)(0.27,-0.16)(0.3,-0.16)(0.33,-0.17)(-0.4,0.0)(-0.45,-0.02)(-0.5,0.02)};
\addplot[bthick] coordinates {(-1.153,0.228)(-1.039,0.311)(-0.983,-0.153)(-0.893,0.084)(-0.863,0.305)(-0.847,-0.031)(-0.84,-0.099)(-0.833,-0.142)(-0.821,-0.026)(-0.813,-0.072)(-0.789,0.024)(-0.782,-0.035)(-0.772,0.114)(-0.75,-0.054)(-0.733,-0.058)(-0.713,-0.081)(-0.713,-0.178)(-0.692,-0.033)(-0.682,-0.061)(-0.674,-0.106)(-0.664,0.214)(-0.643,-0.033)(-0.633,-0.113)(-0.622,-0.094)(-0.594,-0.115)(-0.583,-0.078)(-0.569,-0.108)(-0.56,-0.099)(-0.543,0.597)(-0.532,-0.09)(-0.504,-0.065)(-0.493,-0.09)(-0.476,-0.081)(-0.463,-0.094)(-0.442,-0.011)(-0.435,-0.058)(-0.414,-0.044)(-0.407,-0.058)(-0.389,-0.042)(-0.383,-0.131)(-0.365,-0.106)(-0.344,-0.099)(-0.34,-0.058)(-0.321,0.149)(-0.314,-0.081)(-0.296,-0.06)(-0.236,-0.069)(-0.219,-0.093)};
\addplot[ralpha] coordinates {(-0.171,-0.111)(-0.15,-0.067)(-0.132,-0.078)(-0.101,0.015)(-0.094,-0.035)(-0.094,-0.058)(-0.032,-0.06)(-0.004,-0.033)(0.01,-0.076)(0.031,-0.058)(0.065,-0.049)(0.086,-0.065)(0.107,-0.087)(0.135,-0.072)(0.169,-0.076)(0.229,-0.054)(0.072,-0.076)};
\addplot[phalo] coordinates {(-1.072,0.015)(-0.851,-0.035)(-0.812,0.015)(-0.713,0.021)(-0.611,-0.054)};
\addplot[bins=magc] coordinates {(-1.05,0.311)+-(0,0)(-0.95,-0.152)+-(0,0)(-0.85,0.01)+-(0,0.165)(-0.75,-0.04)+-(0,0.079)(-0.65,-0.054)+-(0,0.095)(-0.55,-0.033)+-(0,0.21)(-0.45,-0.058)+-(0,0.029)(-0.35,-0.04)+-(0,0.087)(-0.25,-0.076)+-(0,0.016)};
\addplot[xcross=magc] coordinates {(-1.05,0.311)(-0.95,-0.152)};
\addplot[bins=purc] coordinates {(-0.65,-0.056)+-(0,0.09)(-0.55,-0.008)+-(0,0.088)(-0.45,0.019)+-(0,0.053)(-0.35,0.019)+-(0,0.079)(-0.25,0.019)+-(0,0.08)(-0.15,0.055)+-(0,0.087)(-0.05,0.033)+-(0,0.069)(0.05,-0.004)+-(0,0.074)(0.15,-0.042)+-(0,0.074)(0.25,-0.123)+-(0,0.036)(0.35,-0.142)+-(0,0.03)};
\addplot[bins=blkc] coordinates {(-0.15,-0.063)+-(0,0.041)(-0.05,-0.044)+-(0,0.016)(0.05,-0.065)+-(0,0.011)(0.15,-0.076)+-(0,0.011)};
\elem{Ba}
\end{axis}

% ---------------- Ce ----------------
\begin{axis}[panel, at={(56.75pt,79.5pt)}, xlab, ylab]
\zerolines
\addplot[ythin] coordinates {(-0.52,0.06)(-0.5,-0.02)(-0.48,0.03)(-0.47,-0.08)(-0.45,0.09)(-0.44,0.0)(-0.42,-0.05)(-0.41,0.05)(-0.39,-0.09)(-0.38,0.02)(-0.36,0.1)(-0.35,-0.04)(-0.34,0.04)(-0.32,-0.07)(-0.31,0.01)(-0.3,0.08)(-0.28,-0.03)(-0.27,0.13)(-0.26,0.03)(-0.25,-0.08)(-0.24,0.06)(-0.23,-0.02)(-0.22,0.1)(-0.21,0.0)(-0.2,-0.06)(-0.19,0.15)(-0.18,0.04)(-0.17,-0.03)(-0.16,0.09)(-0.15,0.01)(-0.14,-0.07)(-0.13,0.12)(-0.12,0.05)(-0.11,-0.02)(-0.1,0.18)(-0.09,0.07)(-0.08,-0.05)(-0.07,0.1)(-0.06,0.02)(-0.05,0.15)(-0.04,-0.08)(-0.03,0.05)(-0.02,0.2)(-0.01,-0.03)(0.0,0.09)(0.0,-0.11)(0.01,0.03)(0.02,0.14)(0.03,-0.06)(0.04,0.06)(0.05,-0.01)(0.06,0.11)(0.07,-0.09)(0.08,0.04)(0.09,-0.04)(0.1,0.08)(0.11,-0.12)(0.12,0.01)(0.13,-0.06)(0.14,0.05)(0.15,-0.09)(0.16,-0.02)(0.17,0.03)(0.18,-0.13)(0.19,-0.05)(0.2,0.0)(0.21,-0.08)(0.22,0.04)(0.23,-0.11)(0.24,-0.03)(0.25,-0.07)(0.26,0.02)(0.27,-0.1)(0.28,-0.04)(0.29,-0.14)(0.3,-0.01)(0.31,-0.07)(0.32,0.03)(0.33,-0.11)(0.34,-0.05)(0.35,0.01)(0.36,-0.08)(-0.058,0.234)(0.021,0.232)(0.072,0.21)(0.069,0.16)(-0.16,0.178)(-0.128,0.178)(-0.389,0.164)(0.303,-0.19)(0.132,-0.182)(-0.514,0.096)(0.41,-0.09)(-0.038,-0.126)(0.056,-0.14)(-0.308,-0.122)};
\addplot[ythin] coordinates {(-0.3,0.03)(-0.28,0.06)(-0.26,-0.03)(-0.24,0.02)(-0.22,0.07)(-0.2,0.03)(-0.18,-0.02)(-0.16,0.05)(-0.14,0.02)(-0.12,0.09)(-0.11,0.03)(-0.09,0.0)(-0.07,0.05)(-0.06,-0.03)(-0.04,0.1)(-0.03,0.01)(-0.01,0.06)(0.0,0.01)(0.01,-0.05)(0.03,0.09)(0.04,-0.02)(0.06,0.03)(0.07,-0.04)(0.09,0.06)(0.1,-0.06)(0.12,0.04)(0.13,-0.02)(0.15,0.0)(0.16,-0.07)(0.18,-0.01)(0.2,-0.05)(0.22,-0.02)(0.24,-0.06)(0.26,-0.03)(0.28,0.01)(0.3,-0.05)(0.32,-0.03)(0.34,0.0)(-0.4,0.03)(-0.45,-0.03)(-0.35,0.06)};
\addplot[bthick] coordinates {(-1.15,0.266)(-1.042,0.319)(-0.979,0.078)(-0.892,0.101)(-0.861,0.189)(-0.84,0.033)(-0.831,-0.058)(-0.819,-0.008)(-0.806,-0.022)(-0.792,-0.031)(-0.781,0.092)(-0.771,0.083)(-0.768,-0.058)(-0.739,-0.072)(-0.729,-0.126)(-0.711,-0.167)(-0.688,-0.117)(-0.681,-0.076)(-0.674,-0.04)(-0.66,0.101)(-0.653,-0.122)(-0.639,0.015)(-0.631,-0.108)(-0.618,-0.022)(-0.618,-0.182)(-0.59,-0.067)(-0.581,-0.144)(-0.569,-0.044)(-0.558,-0.103)(-0.535,-0.113)(-0.528,-0.085)(-0.493,-0.067)(-0.486,-0.058)(-0.472,-0.108)(-0.458,-0.013)(-0.44,-0.203)(-0.438,-0.094)(-0.41,-0.008)(-0.407,-0.081)(-0.386,-0.033)(-0.361,-0.103)(-0.34,-0.058)(-0.319,0.153)(-0.308,-0.081)(-0.299,-0.099)(-0.229,-0.072)};
\addplot[ralpha] coordinates {(-0.169,-0.008)(-0.146,-0.017)(-0.1,0.093)(-0.09,-0.094)(-0.1,0.019)(-0.021,-0.065)(0.0,0.051)(0.014,-0.013)(0.025,0.06)(0.049,0.015)(0.069,0.055)(0.09,0.033)(0.111,-0.058)(0.125,-0.008)(0.139,0.051)(0.181,0.11)(0.233,0.071)(0.081,0.019)};
\addplot[phalo] coordinates {(-1.072,0.094)(-0.808,-0.049)(-0.711,-0.031)(-0.85,-0.088)(-0.611,-0.142)};
\addplot[bins=magc] coordinates {(-1.05,0.321)+-(0,0)(-0.95,0.08)+-(0,0)(-0.85,0.04)+-(0,0.09)(-0.75,-0.035)+-(0,0.084)(-0.65,-0.067)+-(0,0.077)(-0.55,-0.022)+-(0,0.259)(-0.45,-0.063)+-(0,0.062)(-0.35,-0.04)+-(0,0.083)(-0.25,-0.063)+-(0,0)};
\addplot[xcross=magc] coordinates {(-1.05,0.321)(-0.95,0.08)(-0.25,-0.063)};
\addplot[bins=purc] coordinates {(-0.65,-0.063)+-(0,0.03)(-0.55,-0.022)+-(0,0.078)(-0.45,0.005)+-(0,0.059)(-0.35,-0.001)+-(0,0.086)(-0.25,0.012)+-(0,0.071)(-0.15,0.03)+-(0,0.067)(-0.05,0.019)+-(0,0.088)(0.05,-0.011)+-(0,0.078)(0.15,-0.04)+-(0,0.064)(0.25,-0.051)+-(0,0.049)(0.35,-0.033)+-(0,0.064)};
\addplot[bins=blkc] coordinates {(-0.15,0.01)+-(0,0.044)(-0.05,-0.038)+-(0,0.077)(0.05,0.019)+-(0,0.029)(0.15,0.019)+-(0,0.065)};
\elem{Ce}
\end{axis}

% ---------------- Nd ----------------
\begin{axis}[panel, at={(349.75pt,79.5pt)}, xlab, noy]
\zerolines
\addplot[ythin] coordinates {(-0.6,-0.02)(-0.56,0.03)(-0.53,-0.04)(-0.5,0.06)(-0.48,0.0)(-0.46,0.1)(-0.44,0.04)(-0.43,-0.03)(-0.41,0.08)(-0.4,-0.07)(-0.38,0.02)(-0.37,0.12)(-0.35,-0.02)(-0.34,0.06)(-0.33,0.1)(-0.31,0.01)(-0.3,-0.05)(-0.29,0.13)(-0.27,0.04)(-0.26,-0.01)(-0.25,0.08)(-0.24,0.15)(-0.23,-0.04)(-0.22,0.05)(-0.21,0.11)(-0.2,0.0)(-0.19,-0.07)(-0.18,0.07)(-0.17,0.14)(-0.16,0.02)(-0.15,-0.03)(-0.14,0.09)(-0.13,0.04)(-0.12,-0.08)(-0.11,0.12)(-0.1,0.01)(-0.09,0.06)(-0.08,-0.04)(-0.07,0.1)(-0.06,0.16)(-0.05,-0.01)(-0.04,0.05)(-0.03,-0.1)(-0.02,0.02)(-0.01,0.08)(0.0,-0.06)(0.01,0.0)(0.02,-0.12)(0.03,0.05)(0.04,-0.03)(0.05,-0.08)(0.06,0.02)(0.07,-0.13)(0.08,-0.05)(0.09,0.04)(0.1,-0.1)(0.11,-0.02)(0.12,-0.16)(0.13,-0.07)(0.14,0.01)(0.15,-0.12)(0.16,-0.04)(0.17,-0.18)(0.18,-0.09)(0.19,-0.02)(0.2,-0.14)(0.21,-0.06)(0.22,-0.11)(0.23,-0.03)(0.24,-0.17)(0.25,-0.08)(0.26,-0.13)(0.27,-0.05)(0.28,-0.1)(0.29,-0.15)(0.3,-0.07)(0.31,-0.12)(0.32,-0.04)(0.33,-0.09)(0.34,-0.14)(0.35,-0.06)(0.37,-0.1)(-0.042,0.25)(-0.062,0.216)(0.169,0.198)(-0.522,0.19)(-0.514,0.151)(-0.351,0.164)(0.131,-0.219)(0.41,-0.188)(0.269,-0.191)(-0.633,-0.069)(-0.383,-0.105)(-0.314,-0.114)(-0.34,-0.083)(-0.292,-0.087)(-0.525,-0.058)(-0.219,-0.081)(-0.101,-0.108)(-0.042,-0.128)};
\addplot[ythin] coordinates {(-0.31,0.06)(-0.28,0.09)(-0.25,0.03)(-0.23,0.07)(-0.21,0.02)(-0.19,0.1)(-0.17,0.04)(-0.15,0.07)(-0.13,0.0)(-0.12,0.06)(-0.1,0.09)(-0.09,-0.02)(-0.07,0.03)(-0.05,0.07)(-0.04,-0.04)(-0.02,0.05)(-0.01,-0.03)(0.0,0.02)(0.02,-0.06)(0.03,0.0)(0.05,-0.03)(0.06,-0.09)(0.08,-0.01)(0.09,-0.07)(0.11,-0.05)(0.12,-0.1)(0.14,-0.04)(0.15,-0.08)(0.17,-0.12)(0.18,-0.05)(0.2,-0.09)(0.22,-0.07)(0.24,-0.12)(0.26,-0.09)(0.28,-0.13)(0.3,-0.1)(0.32,-0.08)(0.34,-0.11)(-0.35,0.03)(-0.4,0.05)(-0.45,0.06)};
\addplot[bthick] coordinates {(-1.153,0.28)(-1.039,0.264)(-0.983,0.187)(-0.833,-0.011)(-0.821,0.058)(-0.792,0.04)(-0.782,0.169)(-0.772,0.16)(-0.771,0.019)(-0.75,0.098)(-0.733,0.034)(-0.713,0.034)(-0.71,0.01)(-0.692,0.11)(-0.681,0.074)(-0.661,0.146)(-0.643,0.196)(-0.633,0.078)(-0.622,0.051)(-0.594,0.007)(-0.583,0.019)(-0.578,-0.013)(-0.567,-0.022)(-0.539,0.037)(-0.532,0.015)(-0.504,0.071)(-0.476,0.015)(-0.469,0.051)(-0.442,-0.085)(-0.411,0.232)(-0.41,0.055)(-0.389,0.105)(-0.379,0.069)(-0.347,0.069)(-0.321,0.198)(-0.314,0.024)(-0.3,-0.051)(-0.24,0.064)(-0.219,-0.004)};
\addplot[ralpha] coordinates {(-0.171,0.06)(-0.143,0.046)(-0.122,0.033)(-0.097,0.037)(-0.039,0.064)(0.0,0.08)(0.01,0.024)(0.031,0.064)(0.051,0.037)(0.069,0.087)(0.089,0.042)(0.111,0.001)(0.111,-0.083)(0.135,0.024)(0.181,0.081)(0.229,0.044)};
\addplot[phalo] coordinates {(-1.072,0.219)(-0.713,0.114)(-0.611,-0.015)};
\addplot[bins=magc] coordinates {(-1.05,0.266)+-(0,0)(-0.95,0.189)+-(0,0)(-0.85,0.035)+-(0,0.036)(-0.75,0.075)+-(0,0.06)(-0.65,0.083)+-(0,0.052)(-0.55,0.019)+-(0,0.026)(-0.45,0.064)+-(0,0.077)(-0.35,0.069)+-(0,0.071)(-0.25,0.028)+-(0,0.045)};
\addplot[xcross=magc] coordinates {(-1.05,0.266)(-0.95,0.189)};
\addplot[bins=purc] coordinates {(-0.65,-0.019)+-(0,0.043)(-0.55,0.037)+-(0,0.081)(-0.45,0.064)+-(0,0.062)(-0.35,0.022)+-(0,0.076)(-0.25,0.028)+-(0,0.06)(-0.15,0.028)+-(0,0.062)(-0.05,0.01)+-(0,0.075)(0.05,-0.033)+-(0,0.067)(0.15,-0.063)+-(0,0.067)(0.25,-0.076)+-(0,0.058)(0.35,-0.076)+-(0,0.049)};
\addplot[bins=blkc] coordinates {(-0.15,0.046)+-(0,0.008)(-0.05,0.055)+-(0,0.023)(0.05,0.046)+-(0,0.022)(0.15,0.007)+-(0,0.059)};
\elem{Nd}
\end{axis}

% ---------------- Eu ----------------
\begin{axis}[panel, at={(642.75pt,79.5pt)}, xlab, noy,
  legend style={at={(0.0316,0.3326)}, anchor=north west, draw=black!60, line width=0.6pt,
    fill=white, font=\legfont, text=txtc, inner xsep=5pt, inner ysep=4pt, row sep=1.5pt},
  legend cell align=left]
\addlegendimage{ythin,legimg}\addlegendentry{thin}
\addlegendimage{bthick,legimg}\addlegendentry{thick}
\addlegendimage{ralpha,legimg}\addlegendentry{high alpha}
\addlegendimage{phalo,legimg}\addlegendentry{halo}
\zerolines
\addplot[ythin] coordinates {(-0.56,0.2)(-0.53,0.17)(-0.5,0.22)(-0.48,0.14)(-0.46,0.19)(-0.44,0.11)(-0.42,0.16)(-0.4,0.09)(-0.38,0.13)(-0.36,0.18)(-0.35,0.07)(-0.33,0.12)(-0.31,0.16)(-0.3,0.05)(-0.28,0.1)(-0.27,0.14)(-0.26,0.03)(-0.25,0.08)(-0.24,0.12)(-0.23,0.02)(-0.22,0.06)(-0.21,0.1)(-0.2,0.0)(-0.19,0.05)(-0.18,0.08)(-0.17,-0.02)(-0.16,0.04)(-0.15,0.11)(-0.14,-0.04)(-0.13,0.02)(-0.12,0.07)(-0.11,-0.06)(-0.1,0.0)(-0.09,0.05)(-0.08,-0.03)(-0.07,0.03)(-0.06,0.09)(-0.05,-0.05)(-0.04,0.01)(-0.03,0.06)(-0.02,-0.07)(-0.01,-0.01)(0.0,0.04)(0.01,-0.04)(0.02,0.02)(0.03,-0.08)(0.04,0.0)(0.05,0.06)(0.06,-0.05)(0.07,0.01)(0.08,-0.1)(0.09,-0.02)(0.1,0.04)(0.11,-0.06)(0.12,0.0)(0.13,-0.09)(0.14,-0.03)(0.15,0.03)(0.16,-0.07)(0.17,-0.01)(0.18,-0.12)(0.19,-0.04)(0.2,0.02)(0.21,-0.08)(0.22,-0.02)(0.23,0.04)(0.24,-0.05)(0.25,0.01)(0.26,-0.09)(0.27,-0.03)(0.28,0.03)(0.29,-0.06)(0.3,0.0)(0.31,-0.04)(0.32,0.05)(0.33,-0.08)(0.34,-0.02)(0.36,-0.05)(-0.342,-0.09)(-0.139,-0.096)(-0.122,-0.088)(-0.011,-0.153)(0.031,-0.108)(0.121,-0.147)(0.239,-0.113)(0.308,-0.123)(0.41,-0.102)(-0.243,0.228)(-0.31,0.23)(-0.192,0.187)(0.049,0.178)(-0.042,0.135)(0.031,0.151)(0.239,0.114)(0.274,0.083)(-0.622,0.234)(-0.504,0.087)(-0.49,0.093)(-0.382,0.049)(-0.338,0.042)};
\addplot[ythin] coordinates {(-0.45,0.15)(-0.4,0.13)(-0.37,0.1)(-0.34,0.14)(-0.32,0.08)(-0.29,0.12)(-0.27,0.07)(-0.25,0.11)(-0.23,0.05)(-0.21,0.08)(-0.19,0.02)(-0.17,0.06)(-0.15,0.03)(-0.14,0.08)(-0.12,0.01)(-0.1,0.04)(-0.09,-0.02)(-0.07,0.01)(-0.06,0.04)(-0.04,-0.03)(-0.03,0.02)(-0.01,0.03)(0.0,-0.03)(0.02,0.0)(0.03,-0.05)(0.05,-0.02)(0.06,0.02)(0.08,-0.04)(0.09,0.01)(0.11,-0.02)(0.13,-0.05)(0.14,0.0)(0.16,-0.03)(0.18,-0.06)(0.2,-0.02)(0.22,-0.05)(0.24,0.0)(0.26,-0.03)(0.28,-0.01)(0.3,-0.05)(0.32,-0.01)(0.35,-0.03)};
\addplot[bthick] coordinates {(-1.042,0.435)(-0.84,0.416)(-0.835,0.237)(-0.821,0.379)(-0.813,0.323)(-0.793,0.269)(-0.782,0.473)(-0.754,0.317)(-0.74,0.266)(-0.713,0.35)(-0.692,0.366)(-0.682,0.416)(-0.681,0.346)(-0.671,0.273)(-0.657,0.3)(-0.64,0.488)(-0.633,0.376)(-0.625,0.3)(-0.622,0.214)(-0.594,0.305)(-0.583,0.346)(-0.581,0.146)(-0.56,0.269)(-0.553,0.217)(-0.543,0.418)(-0.539,0.196)(-0.532,0.332)(-0.532,0.239)(-0.504,0.239)(-0.493,0.33)(-0.483,0.219)(-0.472,0.246)(-0.463,0.319)(-0.456,0.26)(-0.428,0.255)(-0.407,0.255)(-0.389,0.205)(-0.379,0.287)(-0.365,0.228)(-0.344,0.214)(-0.321,0.299)(-0.31,0.18)(-0.222,0.164)};
\addplot[ralpha] coordinates {(-0.139,0.173)(-0.101,0.144)(-0.15,0.051)(-0.129,0.101)(-0.094,0.069)(-0.022,0.016)(0.017,0.092)(0.028,0.064)(0.069,0.128)(0.079,0.051)(0.051,0.049)(0.176,0.103)(0.229,0.093)(0.017,0.042)};
\addplot[phalo] coordinates {(-1.072,0.375)};
\addplot[bins=magc] coordinates {(-0.85,0.341)+-(0,0.078)(-0.75,0.337)+-(0,0.084)(-0.65,0.344)+-(0,0.081)(-0.55,0.264)+-(0,0.079)(-0.45,0.266)+-(0,0.041)(-0.35,0.205)+-(0,0.044)(-0.25,0.162)+-(0,0.013)};
\addplot[bins=purc] coordinates {(-0.65,0.232)+-(0,0)(-0.55,0.146)+-(0,0.037)(-0.45,0.121)+-(0,0.058)(-0.35,0.132)+-(0,0.11)(-0.25,0.092)+-(0,0.053)(-0.15,0.037)+-(0,0.067)(-0.05,0.01)+-(0,0.055)(0.05,-0.011)+-(0,0.059)(0.15,-0.033)+-(0,0.049)(0.25,-0.013)+-(0,0.047)(0.35,-0.038)+-(0,0.043)};
\addplot[xcross=purc] coordinates {(-0.65,0.232)};
\addplot[bins=blkc] coordinates {(-0.15,0.116)+-(0,0.052)(-0.05,0.044)+-(0,0.035)(0.05,0.078)+-(0,0.032)(0.15,0.103)+-(0,0)};
\addplot[xcross=blkc] coordinates {(0.15,0.103)};
\elem{Eu}
\end{axis}
\end{tikzpicture}
\end{document}
